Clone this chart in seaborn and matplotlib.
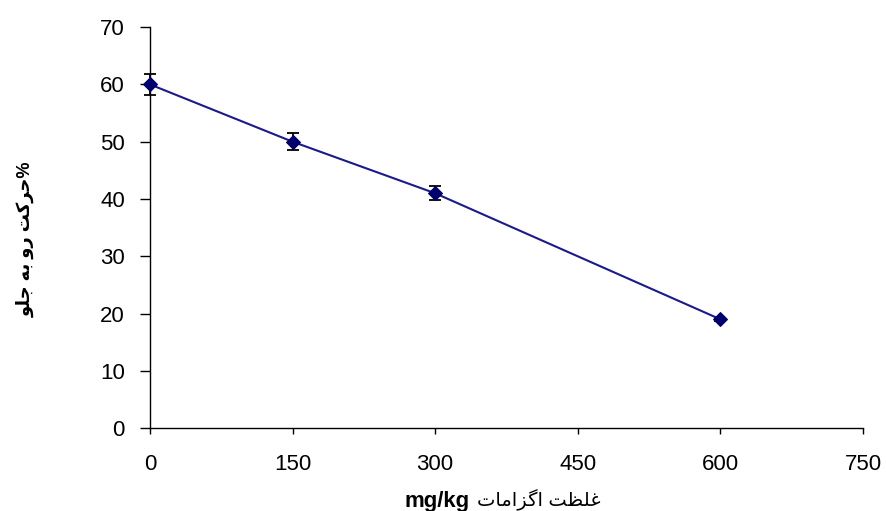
import numpy as np
import pandas as pd
import matplotlib
matplotlib.use("Agg")
import matplotlib.pyplot as plt
import seaborn as sns

# values
dose = [0, 150, 300, 600]
movement = [60, 50, 41, 19]
movement_err = [1.8, 1.5, 1.2, 0.3]
x_ticks = [0, 150, 300, 450, 600, 750]
y_ticks = [0, 10, 20, 30, 40, 50, 60, 70]

# Persian labels, written as shaped presentation forms in visual (left-to-right) order
# "%حرکت رو به جلو"
y_label = "\uFEEE\uFEE0\uFE9F \uFEEA\uFE91 \uFEED\uFEAD \uFE96\uFB90\uFEAE\uFEA3%"
# "غلظت اگزامات" + "mg/kg"
x_label_fa = "\uFE95\uFE8E\uFEE3\uFE8D\uFEB0\uFB94\uFE8D \uFE96\uFEC8\uFEE0\uFECF"
x_label_unit = "mg/kg"

df = pd.DataFrame({"dose": dose, "movement": movement, "err": movement_err})

sns.set_style("white")
plt.rcParams["font.family"] = ["Liberation Sans", "DejaVu Sans"]

fig = plt.figure(figsize=(8.87, 5.11), dpi=100)
ax = fig.add_axes([0.169, 0.162, 0.804, 0.785])

sns.lineplot(data=df, x="dose", y="movement", ax=ax, color="#1a1a8c",
             marker="D", markersize=7.5, markerfacecolor="#00006e",
             markeredgecolor="#00006e", linewidth=1.5, clip_on=False, zorder=3)
ax.errorbar(df["dose"], df["movement"], yerr=df["err"], fmt="none",
            ecolor="black", elinewidth=1.3, capsize=4.5, capthick=1.3,
            clip_on=False, zorder=2)

ax.set_xlim(0, 750)
ax.set_ylim(0, 70)
ax.set_xticks(x_ticks)
ax.set_yticks(y_ticks)
ax.tick_params(axis="both", labelsize=16, direction="out", width=1,
               color="black", labelcolor="black", bottom=True, left=True)
ax.tick_params(axis="x", length=4.5, pad=14)
ax.tick_params(axis="y", length=7, pad=11)

sns.despine(ax=ax)
for s in ["left", "bottom"]:
    ax.spines[s].set_color("black")
    ax.spines[s].set_linewidth(1)

ax.set_xlabel("")
ax.set_ylabel(y_label, fontsize=13, fontweight="bold", color="black")
ax.yaxis.set_label_coords(-0.162, 0.47)

# x label: bold unit on the left, Persian words on the right
ax.text(0.449, -0.196, x_label_unit, transform=ax.transAxes, ha="right",
        va="baseline", fontsize=16, fontweight="bold", color="black")
ax.text(0.459, -0.196, x_label_fa, transform=ax.transAxes, ha="left",
        va="baseline", fontsize=14, color="black")

fig.savefig("out.png", dpi=100)
